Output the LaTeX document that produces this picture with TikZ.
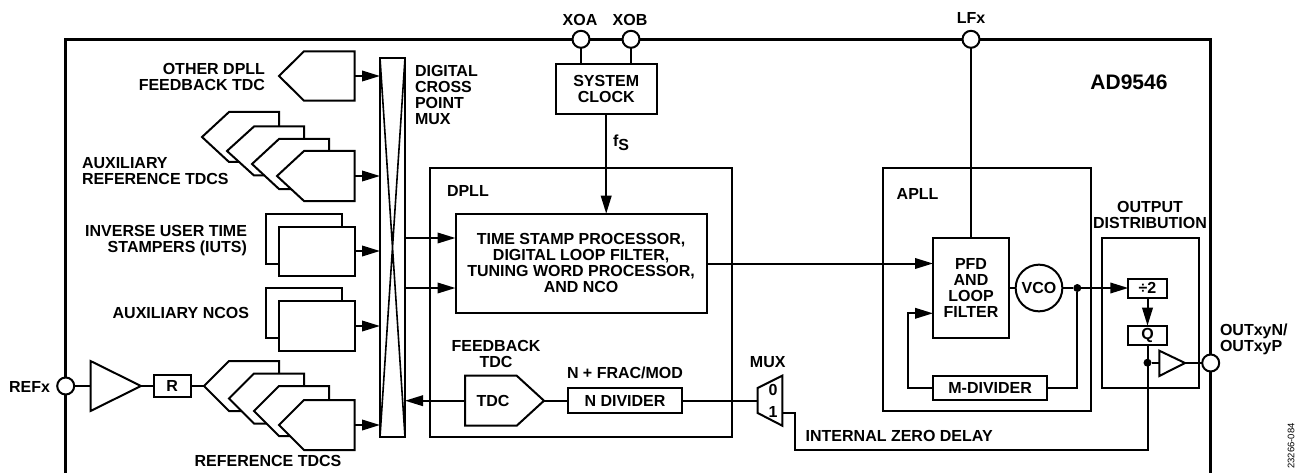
\documentclass[tikz,border=0pt]{standalone}
\usepackage{fontspec}
\setmainfont{Liberation Sans}
\usetikzlibrary{arrows.meta,calc}
\newcommand{\lbl}{\fontsize{16}{16}\selectfont\bfseries}
\tikzset{
  wire/.style={line width=2pt,line join=miter},
  frameline/.style={line width=3pt},
  arrowwire/.style={wire,-{Triangle[length=18pt,width=10.5pt]}},
  blockbox/.style={draw,line width=2pt,fill=white,inner sep=0pt,outer sep=0pt,align=center,font=\lbl},
  pin/.style={circle,draw,line width=2pt,fill=white,minimum size=17pt,inner sep=0pt,outer sep=0pt},
  junction/.style={circle,fill=black,minimum size=8pt,inner sep=0pt,outer sep=0pt},
  txt/.style={inner sep=0pt,outer sep=0pt,align=center,font=\lbl},
  txtr/.style={inner sep=0pt,outer sep=0pt,align=right,font=\lbl},
  txtl/.style={inner sep=0pt,outer sep=0pt,align=left,font=\lbl},
}
% name, x1, y1, x2, y2, text
\newcommand{\blk}[6]{\node[blockbox,minimum width={(#4-#2)*1pt},minimum height={(#5-#3)*1pt}] (#1) at ({(#2+#4)/2},{(#3+#5)/2}) {#6};}
% name, tip x, centre y, shoulder, right x, half height
\newcommand{\pent}[6]{\draw[wire,fill=white] (#2,#3) -- ({#2+#4},{#3-#6}) -- (#5,{#3-#6}) -- (#5,{#3+#6}) -- ({#2+#4},{#3+#6}) -- cycle;
  \coordinate (#1-tip) at (#2,#3); \coordinate (#1-e) at (#5,#3);}
\begin{document}
\begin{tikzpicture}[x=1pt,y=-1pt]
\useasboundingbox (0,0) rectangle (1297,473);
\fill[white] (0,0) rectangle (1297,473);
% frame
\coordinate (fbl) at (65.7,473); \coordinate (ftl) at (65.7,39.3);
\coordinate (ftr) at (1210.7,39.3); \coordinate (fbr) at (1210.7,473);
\draw[frameline,line join=miter] (fbl) -- (ftl) -- (ftr) -- (fbr);
% large blocks
\blk{dpll}{430}{167.7}{732}{437}{}
\blk{apll}{882.7}{167.7}{1091}{411}{}
\blk{outd}{1102.3}{238.3}{1198.7}{388.3}{}
% crossbar
\blk{xb}{380}{58}{405}{437}{}
\draw[line width=1.6pt] (xb.north west) -- (xb.south east) (xb.north east) -- (xb.south west);
% input shapes
\pent{odt}{279}{76}{25}{354.5}{24.7}
\pent{aa}{202}{137}{27}{279}{25}
\pent{ab}{227}{151}{27}{304}{24.5}
\pent{ac}{252}{164}{27}{329}{25}
\pent{ad}{277}{176}{27}{354.5}{25}
\blk{iutb}{266}{214}{342}{264}{}
\blk{iut}{279}{226.5}{354.5}{276}{}
\blk{ncob}{266}{288}{342}{338}{}
\blk{nco}{279}{301}{354.5}{351}{}
\pent{ra}{204}{386}{25}{279}{25}
\pent{rb}{229}{398.5}{25}{304}{25}
\pent{rc}{254}{411}{25}{329}{25}
\pent{rd}{279}{425}{25}{354.5}{25}
% pins
\node[pin] (refx) at (65.7,386) {};
\node[pin] (xoa) at (581,39.3) {};
\node[pin] (xob) at (631,39.3) {};
\node[pin] (lfx) at (971,39.3) {};
\node[pin] (outp) at (1210.7,363) {};
% REF chain
\coordinate (bufi) at (90.5,386); \coordinate (bufo) at (141,386);
\draw[wire,fill=white] (90.5,361) -- (141,386) -- (90.5,411) -- cycle;
\blk{rbox}{153.5}{375}{191}{397}{R}
\draw[wire] (refx.east) -- (bufi);
\draw[wire] (bufo) -- (rbox.west);
\draw[wire] (rbox.east) -- (ra-tip);
% arrows to crossbar
\draw[arrowwire] (odt-e) -- (odt-e -| xb.west);
\draw[arrowwire] (ad-e) -- (ad-e -| xb.west);
\coordinate (iute) at (354.5,251); \coordinate (ncoe) at (354.5,326);
\draw[arrowwire] (iute) -- (iute -| xb.west);
\draw[arrowwire] (ncoe) -- (ncoe -| xb.west);
\draw[arrowwire] (rd-e) -- (rd-e -| xb.west);
% TSP
\blk{tsp}{455.5}{213.7}{706.7}{313}{TIME STAMP PROCESSOR,\\DIGITAL LOOP FILTER,\\TUNING WORD PROCESSOR,\\AND NCO}
\coordinate (xo1) at (405,238); \coordinate (xo2) at (405,288);
\draw[arrowwire] (xo1) -- (xo1 -| tsp.west);
\draw[arrowwire] (xo2) -- (xo2 -| tsp.west);
% System clock
\blk{sys}{555.7}{64.3}{656.7}{113.7}{SYSTEM\\CLOCK}
\draw[wire] (xoa.south) -- (xoa.south |- sys.north);
\draw[wire] (xob.south) -- (xob.south |- sys.north);
\draw[arrowwire] (sys.south) -- (sys.south |- tsp.north);
% Feedback TDC
\draw[wire,fill=white] (465,375.7) -- (516.7,375.7) -- (544,400.7) -- (516.7,425.7) -- (465,425.7) -- cycle;
\coordinate (tdcw) at (465,400.7); \coordinate (tdce) at (544,400.7);
\node[txt] (tdct) at (493,400.7) {TDC};
\blk{ndiv}{568}{388.2}{682}{413.2}{N DIVIDER}
\draw[wire] (tdce) -- (ndiv.west);
\draw[arrowwire] (tdcw) -- (tdcw -| xb.east);
% MUX
\draw[wire,fill=white] (757.7,388) -- (782.3,375.7) -- (782.3,425.7) -- (757.7,413) -- cycle;
\coordinate (muxi) at (757.7,400.7); \coordinate (mux1) at (782.3,413);
\node[txt] (m0) at (773,390) {0};
\node[txt] (m1) at (773,412) {1};
\draw[wire] (ndiv.east) -- (muxi);
% APLL
\blk{pfd}{933}{238.3}{1009}{338.3}{PFD\\AND\\LOOP\\FILTER}
\node[pin,minimum size=46.7pt,font=\lbl] (vco) at (1039,288) {VCO};
\blk{mdiv}{933}{376}{1047.3}{400.3}{M-DIVIDER}
\draw[wire] (lfx.south) -- (pfd.north);
\coordinate (pin1) at (706.7,263.5);
\draw[arrowwire] (pin1) -- (pin1 -| pfd.west);
\draw[wire] (vco.west) -- (vco.west -| pfd.east);
\node[junction] (dj) at (1077.3,288) {};
\draw[wire] (vco.east) -- (dj);
\draw[wire] (mdiv.east) -| (dj);
\coordinate (fbk) at (907.7,313.3);
\draw[arrowwire] (mdiv.west) -| (fbk) -- (fbk -| pfd.west);
% Output
\blk{div2}{1128.3}{278.5}{1166.7}{297.5}{÷2}
\blk{qbox}{1128.3}{325.7}{1166.7}{344.7}{Q}
\draw[arrowwire] (dj) -- (div2.west);
\draw[arrowwire] (div2.south) -- (qbox.north);
\node[junction] (qj) at (1147.5,362.7) {};
\coordinate (zb) at (795,450);
\draw[wire] (mux1) -| (zb) -| (qbox.south);
\draw[wire,fill=white] (1159.3,350.7) -- (1185,363) -- (1159.3,376) -- cycle;
\coordinate (obi) at (1159.3,362.7); \coordinate (obo) at (1185,363);
\draw[wire] (qj) -- (obi);
\draw[wire] (obo) -- (outp.west);
% labels
\node[txtr,anchor=east] (l1) at (265,76.5) {OTHER DPLL\\FEEDBACK TDC};
\node[txtl,anchor=west] (l2) at (82,171) {AUXILIARY\\REFERENCE TDCS};
\node[txtr,anchor=east] (l3) at (247,241) {INVERSE USER TIME\\STAMPERS (IUTS)};
\node[txtr,anchor=east] (l4) at (249,312.5) {AUXILIARY NCOS};
\node[txtr,anchor=east] (l5) at (50,387) {REFx};
\node[txt] (l6) at (268,461) {REFERENCE TDCS};
\node[txtl,anchor=west] (l7) at (415,95) {DIGITAL\\CROSS\\POINT\\MUX};
\node[txt] (l8) at (580,19.7) {XOA};
\node[txt] (l9) at (630,19.7) {XOB};
\node[txt] (l10) at (971,18) {LFx};
\node[txtl,anchor=west] (l11) at (613,143) {f\raisebox{-3.5pt}{S}};
\node[txtl,anchor=west] (l12) at (447,190.5) {DPLL};
\node[txtl,anchor=west] (l13) at (896.7,193.5) {APLL};
\node[txt] (l14) at (496,354) {FEEDBACK\\TDC};
\node[txt] (l15) at (625,372.5) {N + FRAC/MOD};
\node[txt] (l16) at (767.7,362.5) {MUX};
\node[txtl,anchor=west] (l17) at (805.7,436) {INTERNAL ZERO DELAY};
\node[txt] (l18) at (1150,214.7) {OUTPUT\\DISTRIBUTION};
\node[txtl,anchor=west] (l19) at (1220,339) {OUTxyN/\\OUTxyP};
\node[inner sep=0pt,font=\fontsize{21}{24}\selectfont\bfseries] (l20) at (1129,82) {AD9546};
\node[inner sep=0pt,rotate=90,font=\fontsize{9.5}{11}\selectfont] (l21) at (1291,446) {23266-084};
\end{tikzpicture}
\end{document}
